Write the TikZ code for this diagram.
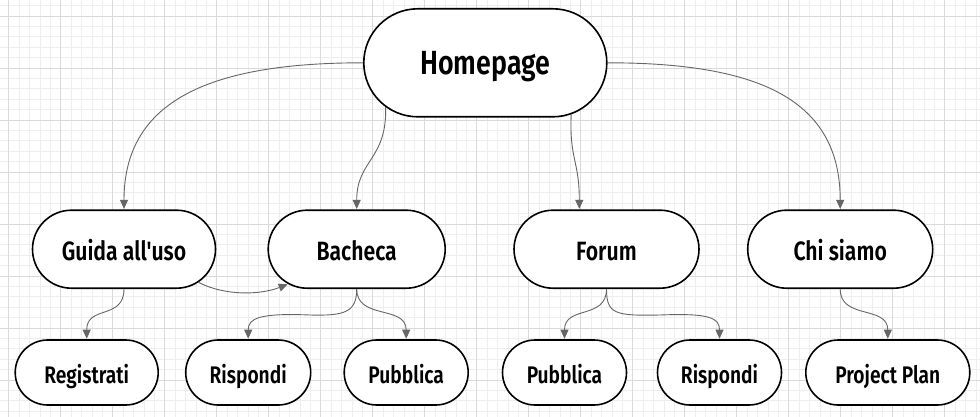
\documentclass[tikz,border=0pt]{standalone}
\usepackage{fontspec}
\newfontfamily\labfont{Fira Sans}[FakeStretch=0.8, BoldFont={Fira Sans SemiBold}]
\usetikzlibrary{arrows.meta,shapes.misc}
\definecolor{gminor}{HTML}{EEEEEE}
\definecolor{gmajor}{HTML}{DADADA}
\definecolor{edgec}{HTML}{666666}
\begin{document}
\begin{tikzpicture}[x=1pt,y=-1pt,
  pill/.style={rounded rectangle, draw=black, line width=1.6pt, fill=white, inner sep=0pt, text depth=0pt},
  topbox/.style={pill, minimum width=243pt, minimum height=108pt, font=\labfont\bfseries\fontsize{33.5}{36}\selectfont, text height=24.4pt},
  midbox/.style={pill, minimum width=#1, minimum height=78pt, font=\labfont\bfseries\fontsize{26.5}{30}\selectfont, text height=21.6pt},
  lowbox/.style={pill, minimum width=#1, minimum height=65pt, font=\labfont\bfseries\fontsize{24}{27}\selectfont, text height=21.6pt},
  link/.style={draw=edgec, line width=0.9pt, -{Triangle[length=9pt,width=8pt]}, shorten >=0.5pt}]
\useasboundingbox (0,0) rectangle (980,417);
\fill[white] (0,0) rectangle (980,417);
\begin{scope}
\clip (0,0) rectangle (980,417);
\foreach \i in {0,...,95} \draw[gminor, line width=0.8pt] ({-1.7+10.4*\i},0) -- ({-1.7+10.4*\i},417);
\foreach \i in {0,...,40} \draw[gminor, line width=0.8pt] (0,{5.6+10.4*\i}) -- (980,{5.6+10.4*\i});
\foreach \i in {0,...,19} \draw[gmajor, line width=0.8pt] ({8.7+52*\i},0) -- ({8.7+52*\i},417);
\foreach \i in {0,...,8} \draw[gmajor, line width=0.8pt] (0,{16+52*\i}) -- (980,{16+52*\i});
\end{scope}

\node[topbox] (home) at (485.3,62.8) {Homepage};
\node[midbox=183pt] (guida) at (124,249.2) {Guida all'uso};
\node[midbox=177pt] (bach) at (356.7,249.2) {Bacheca};
\node[midbox=185pt] (forum) at (606.5,249.2) {Forum};
\node[midbox=185pt] (chi) at (840.2,249.2) {Chi siamo};
\node[lowbox=143pt] (reg) at (86.7,372.5) {Registrati};
\node[lowbox=125pt] (rispL) at (248.2,372.5) {Rispondi};
\node[lowbox=124pt] (pubL) at (406.2,372.5) {Pubblica};
\node[lowbox=124pt] (pubR) at (564.5,372.5) {Pubblica};
\node[lowbox=124pt] (rispR) at (719.5,372.5) {Rispondi};
\node[lowbox=164pt] (proj) at (887.8,372.5) {Project Plan};

\draw[link] (home.west) .. controls (211,62.8) and (124,100) .. (guida.north);
\draw[link] (home.204.2) .. controls (387,160) and (356.7,160) .. (bach.north);
\draw[link] (home.-31.6) .. controls (569.3,160) and (579.3,160) .. ([xshift=-27.2pt]forum.north);
\draw[link] (home.east) .. controls (760,62.8) and (840.2,100) .. (chi.north);
\draw[link] (guida.-24.7) .. controls (225,296) and (260,295) .. (bach.207.7);
\draw[link] (guida.south) .. controls (124,320) and (86.7,305) .. (reg.north);
\draw[link] (bach.south) .. controls (356.7,312) and (345,316) .. (310,315) .. controls (260,313) and (248.2,318) .. (rispL.north);
\draw[link] (bach.south) .. controls (356.7,320) and (406.2,305) .. (pubL.north);
\draw[link] (forum.south) .. controls (606.5,320) and (564.5,305) .. (pubR.north);
\draw[link] (forum.south) .. controls (606.5,314) and (615,316) .. (660,315) .. controls (710,313) and (719.5,318) .. (rispR.north);
\draw[link] (chi.south) .. controls (840.2,320) and (887.8,305) .. (proj.north);
\end{tikzpicture}
\end{document}
